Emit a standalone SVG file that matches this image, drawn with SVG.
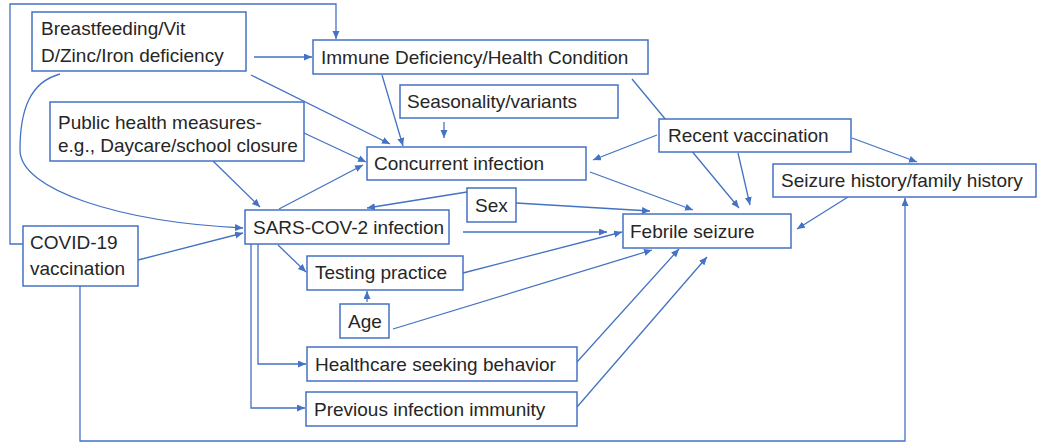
<svg xmlns="http://www.w3.org/2000/svg" width="1037" height="445" viewBox="0 0 1037 445">
<style>
.box{fill:#fff;stroke:#4472C4;stroke-width:1.5}
.t{font-family:"Liberation Sans",Arial,sans-serif;font-size:19px;fill:#262626}
.c{fill:none;stroke:#4472C4;stroke-width:1.3}
</style>
<defs>
<marker id="a" markerUnits="userSpaceOnUse" markerWidth="9" markerHeight="8" refX="8" refY="3.5" orient="auto">
<path d="M0,0 L8,3.5 L0,7 z" fill="#4472C4"/>
</marker>
</defs>
<rect width="1037" height="445" fill="#fff"/>
<g id="connectors">
<polyline class="c" points="23,244 10,244 10,4 336,4 336,39" marker-end="url(#a)"/>
<line class="c" x1="254" y1="57" x2="312" y2="57" marker-end="url(#a)"/>
<line class="c" x1="251" y1="75" x2="390" y2="144" marker-end="url(#a)"/>
<path class="c" d="M60,74 C30,82 20,110 20,150 C20,190 120,222 243,228" marker-end="url(#a)"/>
<line class="c" x1="304" y1="133" x2="366" y2="162" marker-end="url(#a)"/>
<line class="c" x1="382" y1="75" x2="403" y2="146" marker-end="url(#a)"/>
<line class="c" x1="444" y1="122" x2="444" y2="138" marker-end="url(#a)"/>
<line class="c" x1="632" y1="79" x2="739" y2="208" marker-end="url(#a)"/>
<line class="c" x1="657" y1="135" x2="593" y2="160" marker-end="url(#a)"/>
<line class="c" x1="738" y1="153" x2="750" y2="205" marker-end="url(#a)"/>
<line class="c" x1="852" y1="138" x2="917" y2="162" marker-end="url(#a)"/>
<line class="c" x1="848" y1="197" x2="797" y2="229" marker-end="url(#a)"/>
<line class="c" x1="590" y1="172" x2="693" y2="210" marker-end="url(#a)"/>
<line class="c" x1="467" y1="192" x2="367" y2="208" marker-end="url(#a)"/>
<line class="c" x1="516" y1="203" x2="650" y2="211" marker-end="url(#a)"/>
<line class="c" x1="279" y1="209" x2="363" y2="165" marker-end="url(#a)"/>
<line class="c" x1="213" y1="161" x2="260" y2="207" marker-end="url(#a)"/>
<line class="c" x1="138" y1="260" x2="243" y2="233" marker-end="url(#a)"/>
<polyline class="c" points="80,286 80,441 905,441 905,198" marker-end="url(#a)"/>
<line class="c" x1="278" y1="245" x2="306" y2="272" marker-end="url(#a)"/>
<line class="c" x1="463" y1="232" x2="607" y2="232" marker-end="url(#a)"/>
<line class="c" x1="463" y1="273" x2="622" y2="232" marker-end="url(#a)"/>
<line class="c" x1="367" y1="302" x2="367" y2="291" marker-end="url(#a)"/>
<line class="c" x1="393" y1="329" x2="652" y2="250" marker-end="url(#a)"/>
<polyline class="c" points="258,244 258,364 306,364" marker-end="url(#a)"/>
<polyline class="c" points="251,244 251,408 305,408" marker-end="url(#a)"/>
<line class="c" x1="577" y1="362" x2="679" y2="249" marker-end="url(#a)"/>
<line class="c" x1="577" y1="407" x2="707" y2="257" marker-end="url(#a)"/>
</g>
<g id="breastfeeding"><rect class="box" x="32" y="12" width="214" height="59"/><text class="t" x="41" y="35">Breastfeeding/Vit</text><text class="t" x="41" y="62">D/Zinc/Iron deficiency</text></g>
<g id="immune"><rect class="box" x="313" y="40" width="335" height="34"/><text class="t" x="321" y="64">Immune Deficiency/Health Condition</text></g>
<g id="seasonality"><rect class="box" x="400" y="85" width="218" height="33"/><text class="t" x="407" y="108">Seasonality/variants</text></g>
<g id="public"><rect class="box" x="50" y="102" width="254" height="59"/><text class="t" x="58" y="129">Public health measures-</text><text class="t" x="58" y="152">e.g., Daycare/school closure</text></g>
<g id="concurrent"><rect class="box" x="367" y="147" width="219" height="33"/><text class="t" x="374" y="170">Concurrent infection</text></g>
<g id="recent"><rect class="box" x="659" y="119" width="192" height="33"/><text class="t" x="668" y="142">Recent vaccination</text></g>
<g id="seizurehistory"><rect class="box" x="773" y="164" width="263" height="33"/><text class="t" x="781" y="187">Seizure history/family history</text></g>
<g id="sex"><rect class="box" x="467" y="188" width="49" height="34"/><text class="t" x="475" y="212">Sex</text></g>
<g id="sars"><rect class="box" x="245" y="210" width="204" height="34"/><text class="t" x="253" y="234">SARS-COV-2 infection</text></g>
<g id="febrile"><rect class="box" x="623" y="214" width="168" height="34"/><text class="t" x="630" y="238">Febrile seizure</text></g>
<g id="covid"><rect class="box" x="23" y="226" width="115" height="60"/><text class="t" x="30" y="249">COVID-19</text><text class="t" x="30" y="275">vaccination</text></g>
<g id="testing"><rect class="box" x="307" y="256" width="156" height="34"/><text class="t" x="315" y="279">Testing practice</text></g>
<g id="age"><rect class="box" x="340" y="304" width="49" height="34"/><text class="t" x="348" y="328">Age</text></g>
<g id="healthcare"><rect class="box" x="307" y="347" width="270" height="34"/><text class="t" x="315" y="371">Healthcare seeking behavior</text></g>
<g id="previous"><rect class="box" x="306" y="392" width="271" height="34"/><text class="t" x="314" y="416">Previous infection immunity</text></g>
</svg>
